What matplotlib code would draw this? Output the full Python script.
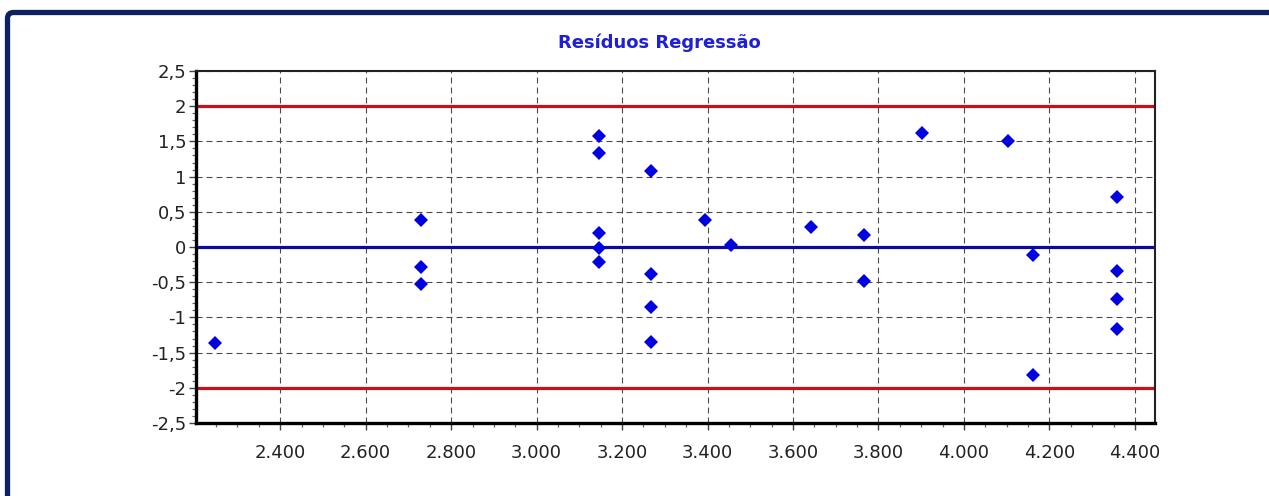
import matplotlib
matplotlib.use("Agg")
import matplotlib.pyplot as plt
from matplotlib.patches import FancyBboxPatch
from matplotlib.transforms import IdentityTransform
from matplotlib.ticker import MultipleLocator, FuncFormatter

# Residuals of the regression: fitted value (x) and standardized residual (y)
fitted = [2248,
          2730, 2730, 2730,
          3145, 3145, 3145, 3145, 3145,
          3268, 3268, 3268, 3268,
          3395, 3456, 3641,
          3767, 3767,
          3902, 4103,
          4161, 4161,
          4357, 4357, 4357, 4357]
residuals = [-1.36,
             0.39, -0.28, -0.53,
             1.57, 1.34, 0.20, -0.02, -0.22,
             1.08, -0.39, -0.85, -1.35,
             0.39, 0.03, 0.28,
             0.17, -0.48,
             1.62, 1.51,
             -0.11, -1.82,
             0.71, -0.34, -0.74, -1.16]

limit_upper = 2
limit_lower = -2
center_line = 0

title = "Resíduos Regressão"

W, H, DPI = 1269, 496, 100
plt.rcParams["font.family"] = ["DejaVu Sans"]
plt.rcParams["lines.scale_dashes"] = False

fig = plt.figure(figsize=(W / DPI, H / DPI), dpi=DPI, facecolor="white")
ax = fig.add_axes([196 / W, 1 - 423 / H, (1155 - 196) / W, (423 - 71) / H])

ax.set_xlim(2203, 4447)
ax.set_ylim(-2.5, 2.5)

ax.xaxis.set_major_locator(MultipleLocator(200))
ax.xaxis.set_minor_locator(MultipleLocator(50))
ax.yaxis.set_major_locator(MultipleLocator(0.5))
ax.yaxis.set_minor_locator(MultipleLocator(0.1))


def fmt_x(v, pos):
    return f"{v / 1000:.3f}"


def fmt_y(v, pos):
    s = f"{v:g}".replace(".", ",")
    return "0" if s in ("-0", "0") else s


ax.xaxis.set_major_formatter(FuncFormatter(fmt_x))
ax.yaxis.set_major_formatter(FuncFormatter(fmt_y))

ax.grid(True, which="major", color="#4a4a4a", linewidth=0.8,
        linestyle=(0, (4.3, 2.9)), zorder=1)
ax.set_axisbelow(True)

# Control limits and zero line
ax.axhline(limit_upper, color="#c8101a", linewidth=2.3, zorder=2)
ax.axhline(limit_lower, color="#c8101a", linewidth=2.3, zorder=2)
ax.axhline(center_line, color="#0a0aa0", linewidth=2.3, zorder=2)

ax.plot(fitted, residuals, linestyle="none", marker="D", markersize=7.4,
        color="#0000e0", markeredgewidth=0, zorder=3)

for side in ("left", "bottom"):
    ax.spines[side].set_linewidth(2.4)
    ax.spines[side].set_color("black")
for side in ("top", "right"):
    ax.spines[side].set_linewidth(1.5)
    ax.spines[side].set_color("#222222")

ax.tick_params(axis="both", which="major", direction="out", length=5,
               width=1.0, color="#444444", labelsize=13, labelcolor="#222222")
ax.tick_params(axis="x", which="major", pad=10)
ax.tick_params(axis="y", which="major", pad=2)
ax.tick_params(axis="both", which="minor", direction="out", length=3,
               width=0.9, color="#666666")

fig.text(659.5 / W, 1 - 48.5 / H, title, ha="center", va="baseline",
         fontsize=13, fontweight="bold", color="#1f1fd6")

# Dark frame around the panel
frame = FancyBboxPatch((7.5, -40), W + 60, H - 12.5 + 40,
                       boxstyle="round,pad=0,rounding_size=6",
                       transform=IdentityTransform(), facecolor="none",
                       edgecolor="#0b2160", linewidth=3.8, zorder=10)
fig.add_artist(frame)

fig.savefig("out.png", dpi=DPI, facecolor="white")
